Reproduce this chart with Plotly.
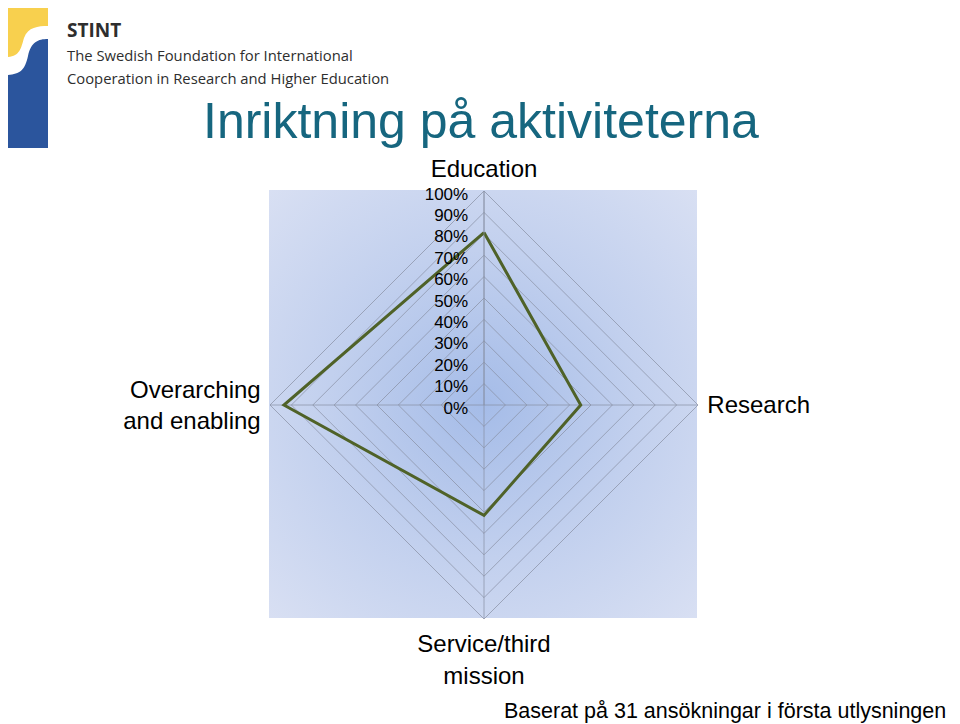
import base64
import plotly.graph_objects as go

# ---- data ----
categories = ["Education", "Research", "Service/third<br>mission", "Overarching<br>and enabling"]
values = [0.806, 0.452, 0.516, 0.935]
tick_vals = [0.0, 0.1, 0.2, 0.3, 0.4, 0.5, 0.6, 0.7, 0.8, 0.9, 1.0]
tick_text = ["0%", "10%", "20%", "30%", "40%", "50%", "60%", "70%", "80%", "90%", "100%"]

# page body has an 8px margin: figure is offset by it
OFF = 8
W, H = 960 - OFF, 724 - OFF


def px(x):
    return (x - OFF) / W


def py(y):
    return 1 - (y - OFF) / H


fig = go.Figure()
fig.add_trace(go.Scatterpolar(
    r=values + values[:1],
    theta=categories + categories[:1],
    mode="lines",
    line=dict(color="#4f6228", width=3),
    hoverinfo="skip",
    showlegend=False,
))

# radial gradient background square
svg = (
    '<svg xmlns="http://www.w3.org/2000/svg" width="428" height="428">'
    '<defs><radialGradient id="g" cx="50%" cy="50%" r="72%">'
    '<stop offset="0%" stop-color="#a5bce8"/>'
    '<stop offset="50%" stop-color="#c2d0ee"/>'
    '<stop offset="100%" stop-color="#d9e0f3"/>'
    '</radialGradient></defs>'
    '<rect width="428" height="428" fill="url(#g)"/></svg>'
)
src = "data:image/svg+xml;base64," + base64.b64encode(svg.encode()).decode()
fig.add_layout_image(dict(
    source=src, xref="paper", yref="paper",
    x=px(269), y=py(190), sizex=428 / W, sizey=428 / H,
    xanchor="left", yanchor="top", sizing="stretch", layer="below",
))

# logo shapes (paper coords)
yellow = (f"M {px(8)},{py(5)} L {px(48)},{py(5)} L {px(48)},{py(26)} "
          f"C {px(38)},{py(26)} {px(28)},{py(27)} {px(24)},{py(38)} "
          f"C {px(21)},{py(48)} {px(20)},{py(56)} {px(8)},{py(57)} Z")
blue = (f"M {px(8)},{py(148)} L {px(48)},{py(148)} L {px(48)},{py(39)} "
        f"C {px(38)},{py(39)} {px(31)},{py(42)} {px(28)},{py(56)} "
        f"C {px(25)},{py(70)} {px(20)},{py(74)} {px(8)},{py(75)} Z")
fig.add_shape(type="path", path=yellow, xref="paper", yref="paper",
              fillcolor="#f8d04e", line=dict(width=0))
fig.add_shape(type="path", path=blue, xref="paper", yref="paper",
              fillcolor="#2b559d", line=dict(width=0))

grid_col = "rgba(135,143,162,0.7)"

fig.update_layout(
    width=W, height=H,
    margin=dict(l=0, r=0, t=0, b=0),
    paper_bgcolor="white",
    font=dict(family="Liberation Sans, Arial, sans-serif", color="black"),
    polar=dict(
        domain=dict(x=[px(270), px(698)], y=[py(619), py(191)]),
        bgcolor="rgba(0,0,0,0)",
        gridshape="linear",
        radialaxis=dict(
            range=[0, 1], angle=90, side="counterclockwise",
            tickvals=tick_vals, ticktext=tick_text,
            tickfont=dict(size=17, color="black"),
            showline=True, linecolor=grid_col, linewidth=1,
            gridcolor=grid_col, gridwidth=0.8,
            ticks="", showticklabels=True,
        ),
        angularaxis=dict(
            rotation=90, direction="clockwise",
            tickfont=dict(size=24, color="black"),
            showline=True, linecolor=grid_col, linewidth=1,
            gridcolor=grid_col, gridwidth=0.8,
            ticks="outside", ticklen=4, tickcolor="rgba(0,0,0,0)",
        ),
    ),
)

# title and texts
fig.add_annotation(x=px(481), y=py(121), xref="paper", yref="paper",
                   text="Inriktning på aktiviteterna", showarrow=False,
                   font=dict(size=50, color="#16667f",
                             family="Liberation Sans, Arial, sans-serif"),
                   xanchor="center", yanchor="middle")
fig.add_annotation(x=px(65), y=py(30), xref="paper", yref="paper",
                   text="<b>STINT</b>", showarrow=False,
                   font=dict(size=19, color="#2e2e2e", family="Open Sans, sans-serif"),
                   xanchor="left", yanchor="middle")
fig.add_annotation(x=px(65), y=py(55), xref="paper", yref="paper",
                   text="The Swedish Foundation for International", showarrow=False,
                   font=dict(size=14.8, color="#2e2e2e", family="Open Sans, sans-serif"),
                   xanchor="left", yanchor="middle")
fig.add_annotation(x=px(65), y=py(78), xref="paper", yref="paper",
                   text="Cooperation in Research and Higher Education", showarrow=False,
                   font=dict(size=14.8, color="#2e2e2e", family="Open Sans, sans-serif"),
                   xanchor="left", yanchor="middle")
fig.add_annotation(x=px(948), y=py(711), xref="paper", yref="paper",
                   text="Baserat på 31 ansökningar i första utlysningen", showarrow=False,
                   font=dict(size=21.5, color="black",
                             family="Liberation Sans, Arial, sans-serif"),
                   xanchor="right", yanchor="middle")

fig.write_html("out.html")
